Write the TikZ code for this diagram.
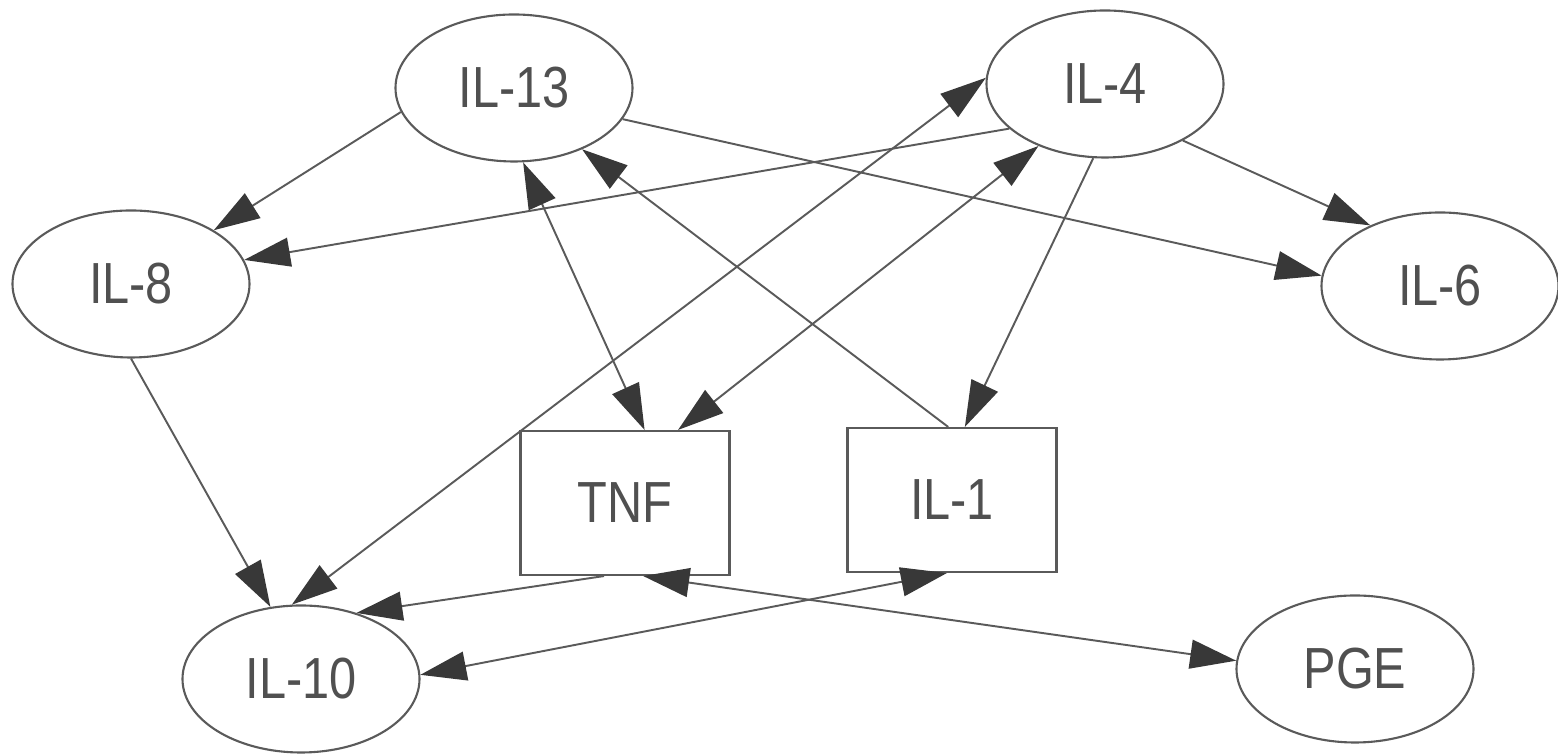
\documentclass[tikz,border=0pt]{standalone}
\usepackage{fontspec}
\setmainfont[FakeStretch=0.84]{Liberation Sans}
\usetikzlibrary{shapes.geometric, arrows.meta}

\definecolor{linegray}{HTML}{5A5A5A}
\definecolor{textgray}{HTML}{505050}
\definecolor{tipgray}{HTML}{383838}

\begin{document}
\begin{tikzpicture}[
    cyto/.style={ellipse, draw=linegray, line width=0.6pt, minimum width=2.37cm, minimum height=1.47cm, inner sep=0pt, text=textgray, font=\fontsize{16.5}{20}\selectfont},
    gene/.style={rectangle, draw=linegray, line width=0.6pt, minimum width=2.09cm, minimum height=1.44cm, inner sep=0pt, text=textgray, font=\fontsize{16.5}{20}\selectfont},
    arrow/.style={-{Triangle[length=0.46cm, width=0.29cm, color=tipgray]}, draw=linegray, line width=0.55pt},
    both/.style={{Triangle[length=0.46cm, width=0.29cm, color=tipgray]}-{Triangle[length=0.46cm, width=0.29cm, color=tipgray]}, draw=linegray, line width=0.55pt}
]
\useasboundingbox (0,0) rectangle (15.58,7.54);

% Cytokines
\node[cyto] (il13) at (5.14, 6.66) {IL-13};
\node[cyto] (il4) at (11.05, 6.70) {IL-4};
\node[cyto] (il8) at (1.31, 4.70) {IL-8};
\node[cyto] (il6) at (14.40, 4.68) {IL-6};
\node[cyto] (il10) at (3.01, 0.75) {IL-10};
\node[cyto] (pge) at (13.55, 0.85) {PGE};

% Boxes
\node[gene] (tnf) at (6.25, 2.51) {TNF};
\node[gene] (il1) at (9.52, 2.54) {IL-1};

% One-way links
\draw[arrow] (il13.192) -- (il8.33);
\draw[arrow] (il4.205) -- (il8.12);
\draw[arrow] (il13.344) -- (il6.175);
\draw[arrow] (il4.324) -- (il6.139);
\draw[arrow] (il1.93) -- (il13.318);
\draw[arrow] (il4.261) -- (il1.80);
\draw[arrow] (il8.270) -- (il10.113);
\draw[arrow] (tnf.254) -- (il10.50);

% Two-way links
\draw[both] (il13.277) -- (tnf.75);
\draw[both] (il10.97) -- (il4.177);
\draw[both] (tnf.54) -- (il4.223);
\draw[both] (il1.266) -- (il10.2);
\draw[both] (tnf.284) -- (pge.176);

\end{tikzpicture}
\end{document}
